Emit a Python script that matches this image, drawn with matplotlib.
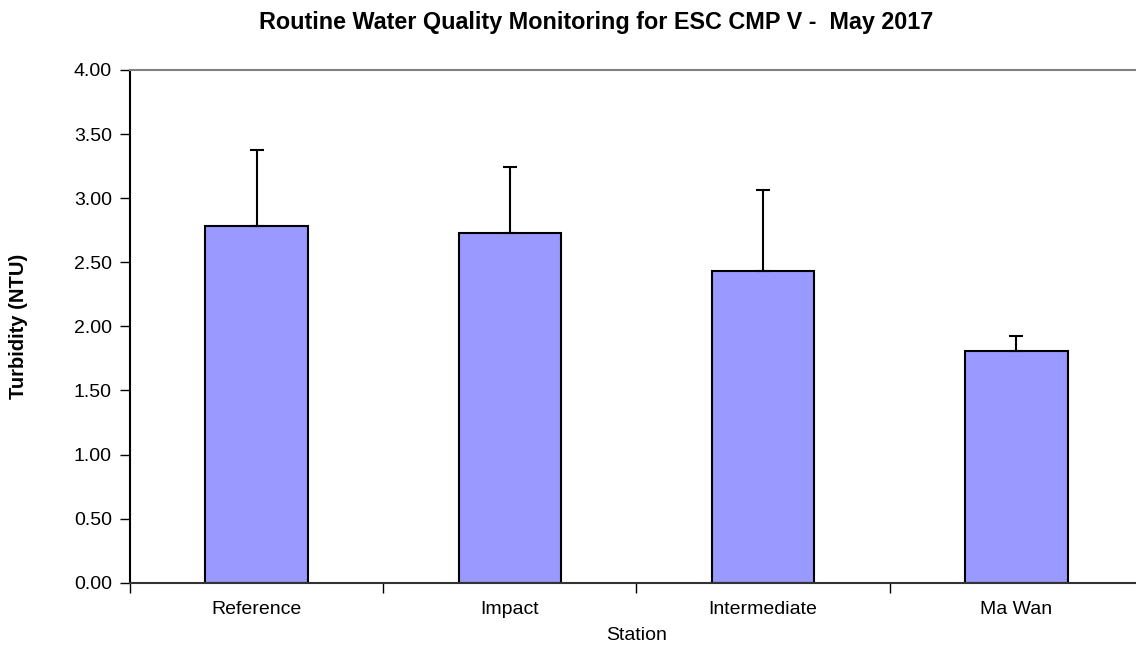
import matplotlib
matplotlib.use("Agg")
import matplotlib.pyplot as plt
import numpy as np

stations = ["Reference", "Impact", "Intermediate", "Ma Wan"]
turbidity = [2.78, 2.73, 2.43, 1.81]
error_upper = [0.595, 0.515, 0.63, 0.115]

plt.rcParams['font.family'] = ['Liberation Sans', 'DejaVu Sans']

fig = plt.figure(figsize=(11.36, 6.46), dpi=100)
ax = fig.add_axes([130/1136, (646-582.7)/646, (1143-130)/1136, (582.7-70)/646])

x = np.arange(len(stations))
ax.bar(x, turbidity, width=0.405, color='#9999ff', edgecolor='black', linewidth=1.5, zorder=2)
ax.errorbar(x, turbidity, yerr=[np.zeros(len(x)), error_upper], fmt='none',
            ecolor='black', elinewidth=1.5, capsize=5, capthick=1.5, zorder=3)

ax.set_xlim(-0.5, len(stations) - 0.5)
ax.set_ylim(0, 4.0)
yt = np.arange(0, 4.01, 0.5)
ax.set_yticks(yt)
ax.set_yticklabels([f"{v:.2f}" for v in yt], fontsize=14)
ax.set_xticks(x)
ax.set_xticklabels(stations, fontsize=14)
ax.tick_params(axis='x', length=0, pad=13)
ax.set_xticks(np.arange(-0.5, len(stations) + 0.5, 1), minor=True)
ax.tick_params(axis='x', which='minor', length=7, width=1, color='black')
ax.tick_params(axis='y', length=7, width=1, pad=6)

ax.spines['right'].set_visible(False)
ax.spines['top'].set_color('#808080')
ax.spines['top'].set_linewidth(1.5)
ax.spines['left'].set_linewidth(1.5)
ax.spines['bottom'].set_linewidth(1.5)
ax.spines['bottom'].set_color('#333333')

ax.set_xlabel("Station", fontsize=14, labelpad=7)
ax.set_ylabel("Turbidity (NTU)", fontsize=14.5, fontweight='bold')
ax.yaxis.set_label_coords(-102/1013, 0.5)

fig.text(596/1136, 1 - 22/646, "Routine Water Quality Monitoring for ESC CMP V -  May 2017",
         fontsize=16.8, fontweight='bold', ha='center', va='center')

fig.savefig("out.png", dpi=100)
